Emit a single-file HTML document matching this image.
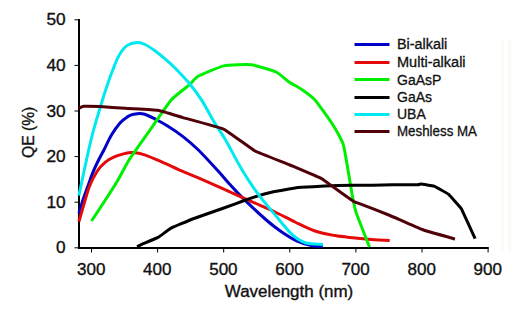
<!DOCTYPE html>
<html><head><meta charset="utf-8"><style>
html,body{margin:0;padding:0;background:#fff;}
svg{display:block;font-family:"Liberation Sans",sans-serif;}
</style></head><body>
<svg width="512" height="310" viewBox="0 0 512 310">
<rect width="512" height="310" fill="#fff"/>
<rect x="501" y="40" width="3" height="212" fill="#f8fcf5"/><rect x="508" y="40" width="3" height="212" fill="#f8fcf5"/>
<g fill="#111" stroke="#111" stroke-width="0.35" font-size="16"><text x="65.6" y="25.3" text-anchor="end" textLength="19.2" lengthAdjust="spacingAndGlyphs">50</text><text x="65.6" y="70.9" text-anchor="end" textLength="19.2" lengthAdjust="spacingAndGlyphs">40</text><text x="65.6" y="116.5" text-anchor="end" textLength="19.2" lengthAdjust="spacingAndGlyphs">30</text><text x="65.6" y="162.1" text-anchor="end" textLength="19.2" lengthAdjust="spacingAndGlyphs">20</text><text x="65.6" y="207.7" text-anchor="end" textLength="19.2" lengthAdjust="spacingAndGlyphs">10</text><text x="65.6" y="253.3" text-anchor="end" textLength="9.6" lengthAdjust="spacingAndGlyphs">0</text><text x="91.2" y="274.5" text-anchor="middle" textLength="28.4" lengthAdjust="spacingAndGlyphs">300</text><text x="157.29999999999998" y="274.5" text-anchor="middle" textLength="28.4" lengthAdjust="spacingAndGlyphs">400</text><text x="223.39999999999998" y="274.5" text-anchor="middle" textLength="28.4" lengthAdjust="spacingAndGlyphs">500</text><text x="289.5" y="274.5" text-anchor="middle" textLength="28.4" lengthAdjust="spacingAndGlyphs">600</text><text x="355.59999999999997" y="274.5" text-anchor="middle" textLength="28.4" lengthAdjust="spacingAndGlyphs">700</text><text x="421.7" y="274.5" text-anchor="middle" textLength="28.4" lengthAdjust="spacingAndGlyphs">800</text><text x="487.8" y="274.5" text-anchor="middle" textLength="28.4" lengthAdjust="spacingAndGlyphs">900</text>
<text x="289" y="296.5" text-anchor="middle" textLength="128.5" lengthAdjust="spacingAndGlyphs">Wavelength (nm)</text>
<text transform="translate(33.6,132.4) rotate(-90)" text-anchor="middle" textLength="51.3" lengthAdjust="spacingAndGlyphs">QE (%)</text>
</g>
<line x1="79" y1="19" x2="79" y2="249" stroke="#000" stroke-width="2"/>
<line x1="78" y1="248" x2="488.5" y2="248" stroke="#000" stroke-width="2"/>
<line x1="74.5" y1="19.8" x2="79" y2="19.8" stroke="#000" stroke-width="1"/><line x1="74.5" y1="65.4" x2="79" y2="65.4" stroke="#000" stroke-width="1"/><line x1="74.5" y1="111" x2="79" y2="111" stroke="#000" stroke-width="1"/><line x1="74.5" y1="156.6" x2="79" y2="156.6" stroke="#000" stroke-width="1"/><line x1="74.5" y1="202.2" x2="79" y2="202.2" stroke="#000" stroke-width="1"/><line x1="74.5" y1="247.8" x2="79" y2="247.8" stroke="#000" stroke-width="1"/><line x1="91.5" y1="247" x2="91.5" y2="252.5" stroke="#000" stroke-width="1"/><line x1="157.6" y1="247" x2="157.6" y2="252.5" stroke="#000" stroke-width="1"/><line x1="223.7" y1="247" x2="223.7" y2="252.5" stroke="#000" stroke-width="1"/><line x1="289.8" y1="247" x2="289.8" y2="252.5" stroke="#000" stroke-width="1"/><line x1="355.9" y1="247" x2="355.9" y2="252.5" stroke="#000" stroke-width="1"/><line x1="422" y1="247" x2="422" y2="252.5" stroke="#000" stroke-width="1"/><line x1="488.1" y1="247" x2="488.1" y2="252.5" stroke="#000" stroke-width="1"/>
<path d="M78.9,213.5 C79.6,211.2 81.5,204.5 83.0,199.8 C84.5,195.1 86.6,189.6 88.2,185.2 C89.8,180.8 90.7,177.8 92.4,173.6 C94.1,169.4 96.7,163.9 98.6,160.0 C100.5,156.1 101.7,154.2 103.9,150.0 C106.1,145.8 108.9,139.3 111.6,134.8 C114.3,130.3 117.4,126.0 120.0,123.0 C122.6,120.0 125.0,118.4 127.3,116.9 C129.6,115.5 131.0,114.8 133.7,114.3 C136.4,113.8 139.9,113.1 143.6,114.0 C147.3,114.9 152.0,117.5 156.0,119.5 C160.0,121.5 163.1,123.2 167.6,126.0 C172.1,128.8 177.9,132.6 183.0,136.6 C188.1,140.6 192.6,144.3 198.4,150.0 C204.2,155.7 212.6,165.0 217.7,170.6 C222.8,176.2 224.9,179.0 229.0,183.5 C233.1,188.0 235.9,191.3 242.1,197.4 C248.3,203.5 259.8,214.3 266.3,220.0 C272.8,225.7 275.9,228.0 281.0,231.5 C286.1,235.0 291.7,238.7 297.1,241.1 C302.5,243.5 308.9,245.2 313.2,246.0 C317.5,246.8 321.3,246.0 322.9,246.0" fill="none" stroke="#0000c8" stroke-width="3" stroke-linejoin="round" stroke-linecap="butt"/>
<path d="M78.9,221.5 C79.8,218.6 82.2,209.9 84.0,204.0 C85.8,198.1 87.4,191.4 89.6,186.0 C91.8,180.6 94.4,175.5 97.0,171.5 C99.6,167.5 102.4,164.6 105.4,162.1 C108.4,159.6 111.6,158.0 114.8,156.6 C118.0,155.2 121.4,154.3 124.4,153.6 C127.4,152.9 129.3,152.4 132.7,152.6 C136.1,152.8 139.3,153.0 144.7,154.8 C150.1,156.6 159.3,160.9 165.0,163.4 C170.7,165.9 173.4,167.4 179.0,169.8 C184.6,172.2 187.6,173.2 198.4,177.9 C209.2,182.6 234.1,193.9 243.7,198.2 C253.3,202.5 250.8,201.2 256.0,203.5 C261.2,205.8 268.5,208.9 275.0,212.0 C281.5,215.1 288.3,218.8 295.0,222.0 C301.7,225.2 308.3,228.7 315.0,231.0 C321.7,233.3 328.3,234.4 335.0,235.6 C341.7,236.8 349.0,237.3 355.0,238.0 C361.0,238.7 365.3,239.1 371.1,239.5 C376.9,239.9 386.6,240.4 389.7,240.6" fill="none" stroke="#e40a0a" stroke-width="3" stroke-linejoin="round" stroke-linecap="butt"/>
<path d="M91.5,221.0 C93.7,217.7 114.3,186.1 117.4,181.0 C120.5,175.9 126.3,164.2 129.0,160.0 C131.7,155.8 146.5,135.0 150.0,130.0 C153.5,125.0 167.9,103.8 171.2,100.0 C174.5,96.2 187.4,86.7 189.6,84.7 C191.8,82.7 195.0,78.1 197.8,76.5 C200.7,74.9 219.4,66.9 223.8,65.9 C228.2,64.9 246.8,64.3 251.1,64.8 C255.4,65.3 272.8,70.6 276.0,72.0 C279.2,73.4 286.9,80.6 289.0,82.0 C291.1,83.4 298.8,87.5 301.0,89.0 C303.2,90.5 312.3,97.0 315.0,100.0 C317.7,103.0 330.6,121.3 333.0,125.0 C335.4,128.7 341.9,140.4 343.2,144.2 C344.4,147.9 347.3,165.8 348.0,170.0 C348.7,174.2 351.5,190.7 352.1,194.2 C352.8,197.7 354.4,207.2 355.8,211.6 C357.2,216.0 368.4,244.1 369.5,247.1" fill="none" stroke="#00ee00" stroke-width="3" stroke-linejoin="round" stroke-linecap="butt"/>
<path d="M137.1,246.8 C137.3,246.7 142.0,244.2 142.7,243.9 C143.4,243.6 157.2,237.9 158.1,237.4 C159.0,236.9 169.5,229.0 170.6,228.4 C171.7,227.8 190.7,219.7 192.5,219.0 C194.3,218.3 222.0,208.6 223.8,208.0 C225.6,207.4 244.5,200.4 245.6,200.0 C246.7,199.6 257.3,196.1 258.2,195.8 C259.1,195.5 271.8,192.2 272.7,192.0 C273.6,191.8 282.7,190.2 283.7,190.0 C284.7,189.8 300.1,187.4 301.5,187.3 C302.9,187.2 323.0,186.1 324.7,186.0 C326.4,185.9 350.4,185.3 352.0,185.3 C353.6,185.3 371.6,185.2 372.9,185.2 C374.2,185.2 390.8,184.8 392.3,184.8 C393.8,184.8 416.7,184.8 417.7,184.8 C418.7,184.8 420.5,184.0 421.0,184.0 C421.5,184.0 433.1,185.8 434.0,186.1 C434.9,186.4 447.5,193.4 448.4,194.2 C449.3,195.0 460.4,207.2 461.3,208.7 C462.2,210.2 474.7,237.7 475.2,238.7" fill="none" stroke="#000000" stroke-width="3" stroke-linejoin="round" stroke-linecap="butt"/>
<path d="M78.9,195.5 C80.9,186.2 87.4,154.8 91.0,140.0 C94.6,125.2 97.6,116.2 100.5,106.5 C103.4,96.8 106.3,88.0 108.3,82.0 C110.3,76.0 111.1,74.3 112.6,70.5 C114.1,66.7 115.7,62.3 117.2,59.0 C118.8,55.7 120.1,53.2 121.9,50.9 C123.7,48.6 125.3,46.4 127.9,45.0 C130.5,43.6 134.6,42.7 137.4,42.6 C140.2,42.5 142.0,43.1 145.0,44.5 C148.0,45.9 151.9,48.5 155.3,51.0 C158.7,53.5 162.2,56.4 165.6,59.4 C169.0,62.4 171.9,64.8 176.0,69.0 C180.1,73.2 185.9,79.3 190.2,84.5 C194.5,89.7 197.8,94.1 201.8,100.4 C205.9,106.8 210.6,116.2 214.5,122.6 C218.4,129.0 220.4,131.1 225.0,139.0 C229.6,146.9 236.6,160.8 242.1,170.0 C247.6,179.2 252.5,186.5 258.2,194.2 C263.9,201.9 270.4,209.3 276.1,216.1 C281.8,222.8 287.5,230.3 292.3,234.7 C297.1,239.1 300.1,241.1 305.2,242.7 C310.3,244.3 319.9,244.1 322.9,244.4" fill="none" stroke="#00e8f0" stroke-width="3" stroke-linejoin="round" stroke-linecap="butt"/>
<path d="M78.5,108.5 C78.7,108.4 82.6,106.4 83.5,106.3 C84.4,106.2 98.3,106.5 100.0,106.6 C101.7,106.7 122.6,108.0 125.0,108.2 C127.4,108.4 155.6,109.9 158.0,110.3 C160.4,110.7 180.2,116.8 183.0,117.6 C185.8,118.4 221.0,127.9 224.0,129.3 C227.0,130.7 252.2,149.5 255.0,151.0 C257.8,152.5 287.2,163.8 290.0,165.0 C292.8,166.2 320.3,177.9 322.0,178.8 C323.7,179.7 330.3,184.9 331.6,185.8 C332.9,186.7 352.5,200.7 353.7,201.5 C354.9,202.3 358.7,203.3 360.2,203.9 C361.7,204.5 387.4,214.4 390.0,215.5 C392.6,216.6 419.3,228.5 422.0,229.5 C424.7,230.5 453.6,238.6 455.0,239.0" fill="none" stroke="#500008" stroke-width="3" stroke-linejoin="round" stroke-linecap="butt"/>
<g fill="#111" stroke="#111" stroke-width="0.3"><line x1="354.5" y1="44.5" x2="389.5" y2="44.5" stroke="#0000c8" stroke-width="3"/><text x="397" y="49.3" font-size="14" textLength="50.3" lengthAdjust="spacingAndGlyphs">Bi-alkali</text><line x1="354.5" y1="62.5" x2="389.5" y2="62.5" stroke="#e40a0a" stroke-width="3"/><text x="397" y="67.2" font-size="14" textLength="68.6" lengthAdjust="spacingAndGlyphs">Multi-alkali</text><line x1="354.5" y1="79.5" x2="389.5" y2="79.5" stroke="#00ee00" stroke-width="3"/><text x="397" y="85.0" font-size="14">GaAsP</text><line x1="354.5" y1="97.5" x2="389.5" y2="97.5" stroke="#000000" stroke-width="3"/><text x="397" y="102.0" font-size="14">GaAs</text><line x1="354.5" y1="114.5" x2="389.5" y2="114.5" stroke="#00e8f0" stroke-width="3"/><text x="397" y="119.0" font-size="14">UBA</text><line x1="354.5" y1="131.5" x2="389.5" y2="131.5" stroke="#500008" stroke-width="3"/><text x="397" y="135.8" font-size="14" textLength="80" lengthAdjust="spacingAndGlyphs">Meshless MA</text></g>
</svg>
</body></html>
